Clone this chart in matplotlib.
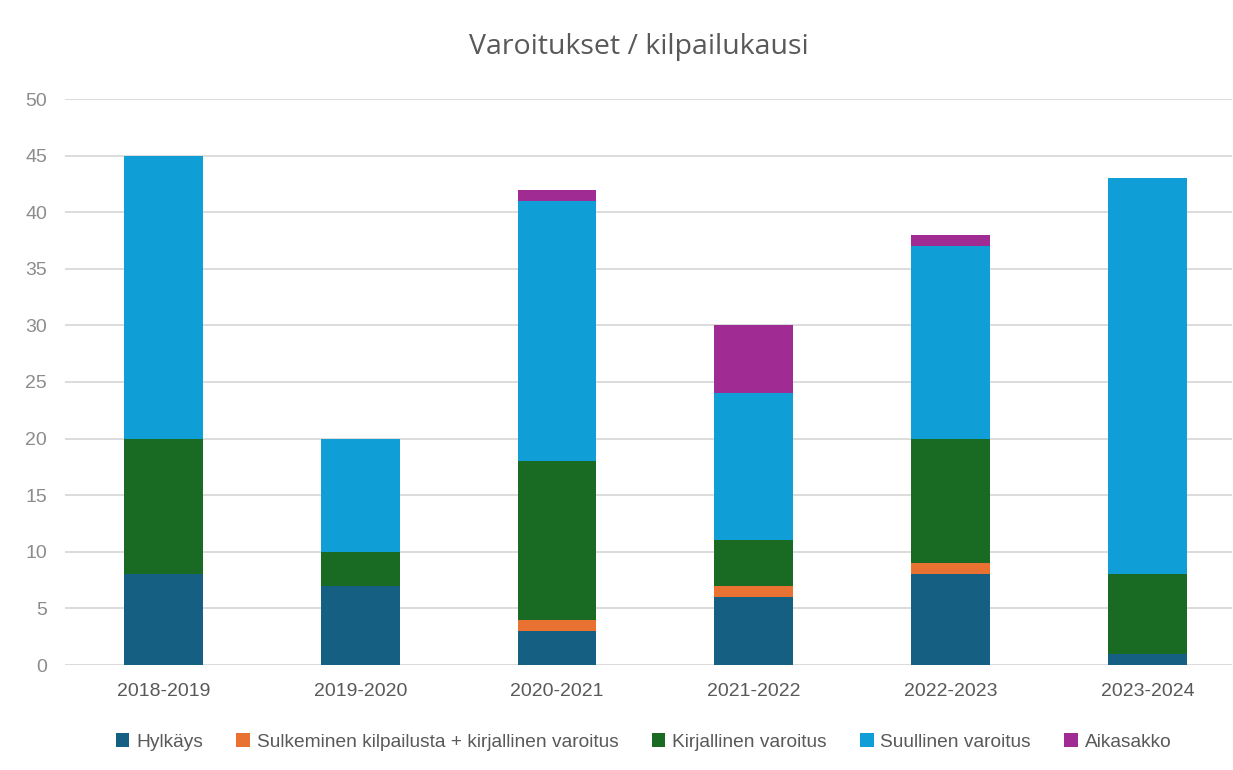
import matplotlib
matplotlib.use('Agg')
import matplotlib.pyplot as plt
import numpy as np

kaudet = ['2018-2019', '2019-2020', '2020-2021', '2021-2022', '2022-2023', '2023-2024']
hylkays = [8, 7, 3, 6, 8, 1]
sulkeminen = [0, 0, 1, 1, 1, 0]
kirjallinen = [12, 3, 14, 4, 11, 7]
suullinen = [25, 10, 23, 13, 17, 35]
aikasakko = [0, 0, 1, 6, 1, 0]

sarjat = [
    ('Hylkäys', hylkays, '#156082'),
    ('Sulkeminen kilpailusta + kirjallinen varoitus', sulkeminen, '#E97132'),
    ('Kirjallinen varoitus', kirjallinen, '#196B24'),
    ('Suullinen varoitus', suullinen, '#0F9ED5'),
    ('Aikasakko', aikasakko, '#A02B93'),
]

plt.rcParams['font.family'] = ['Liberation Sans', 'DejaVu Sans']

fig = plt.figure(figsize=(12.33, 7.7), dpi=100)
ax = fig.add_axes([65 / 1233, 1 - 665 / 770, (1232 - 65) / 1233, (665 - 99) / 770])

# pinotut pylväät
x = np.arange(len(kaudet))
pohja = np.zeros(len(kaudet))
for nimi, arvot, vari in sarjat:
    ax.bar(x, arvot, width=0.4, bottom=pohja, color=vari, label=nimi, zorder=3)
    pohja += np.array(arvot)

ax.set_ylim(0, 50)
ax.set_xlim(-0.5, 5.43)
ax.set_yticks(range(0, 51, 5))
ax.set_xticks(x)
ax.set_xticklabels(kaudet)
ax.yaxis.grid(True, color='#d9d9d9', linewidth=1.3, zorder=0)
for s in ax.spines.values():
    s.set_visible(False)
ax.tick_params(axis='both', length=0, labelsize=14)
ax.tick_params(axis='x', pad=13, colors='#595959')
ax.tick_params(axis='y', pad=13, colors='#8c8c8c')

fig.text(0.518, 1 - 47 / 770, 'Varoitukset / kilpailukausi', ha='center', va='center',
         fontsize=20.5, color='#595959', family=['Open Sans', 'DejaVu Sans'])

leg = fig.legend(loc='center', bbox_to_anchor=(0.522, 1 - 742 / 770), ncol=5, frameon=False,
                 handlelength=0.7, handleheight=0.7, handletextpad=0.35,
                 columnspacing=1.75, labelcolor='#595959',
                 prop={'family': ['Liberation Sans', 'DejaVu Sans'], 'size': 13.8})

fig.savefig('out.png', dpi=100)
